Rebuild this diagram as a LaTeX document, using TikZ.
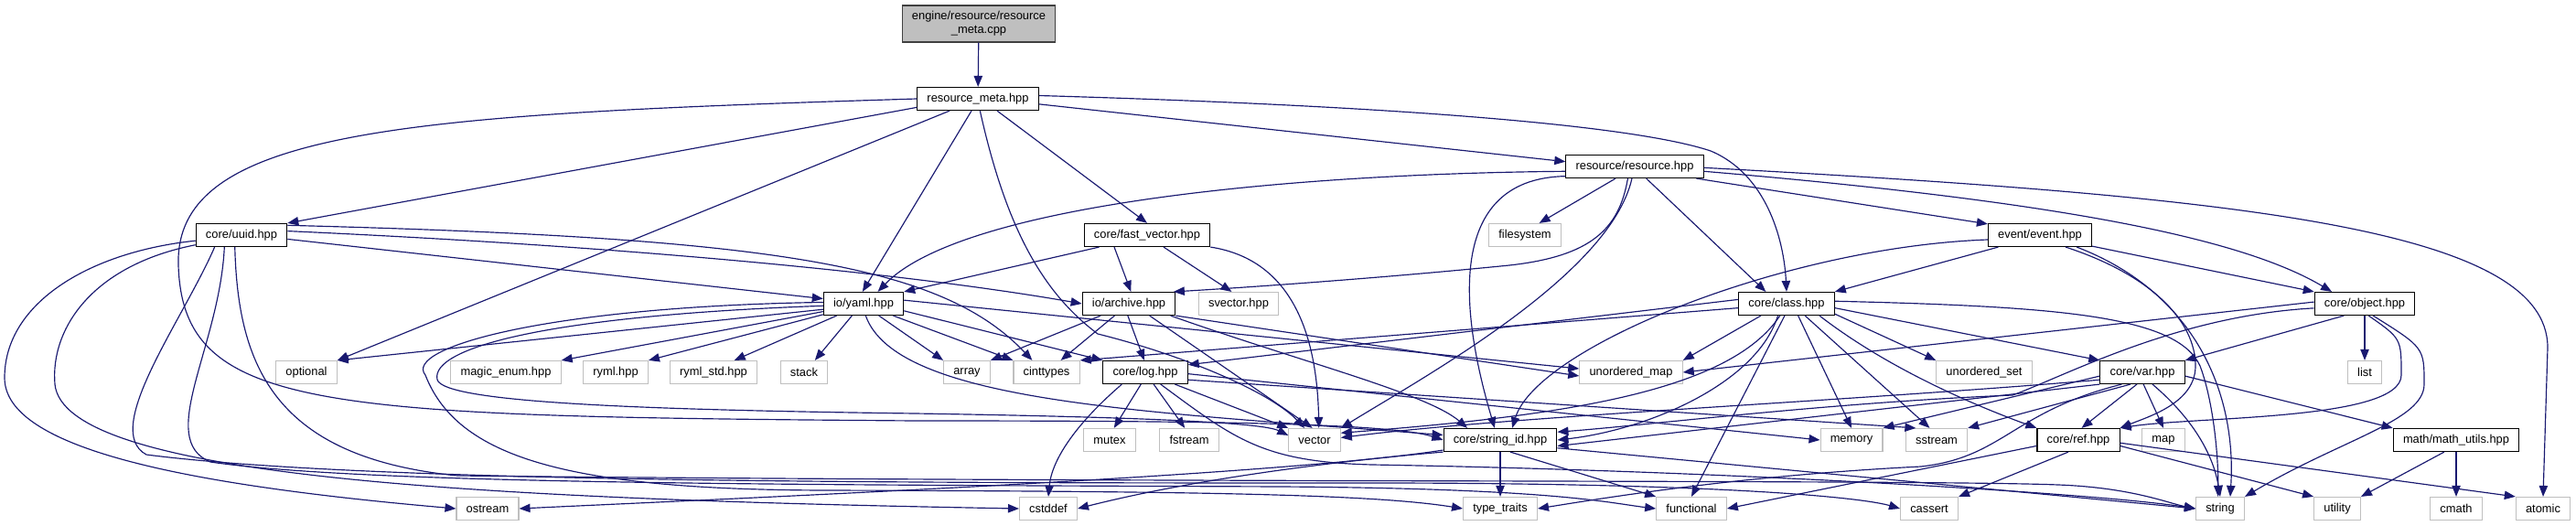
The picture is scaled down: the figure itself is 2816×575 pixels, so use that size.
\documentclass[tikz,border=0pt]{standalone}
\usepackage{fontspec}
\setmainfont{Liberation Sans}
\usepackage{tikz}
\usetikzlibrary{arrows.meta, positioning}

\definecolor{edgeblue}{HTML}{191970}
\definecolor{sysgray}{HTML}{BFBFBF}
\definecolor{rootline}{HTML}{404040}
\newcommand{\hfont}{\fontsize{11pt}{12.8pt}\selectfont}

\begin{document}
\begin{tikzpicture}[
    x=0.3mm, y=-0.3mm,
    hdr/.style={draw=black, fill=white, font=\hfont, minimum height=7.5mm, inner xsep=3.2mm, inner ysep=0pt, line width=0.35mm},
    syshdr/.style={hdr, draw=sysgray},
    srcfile/.style={hdr, fill=sysgray, draw=rootline, align=center, minimum height=12mm},
    dep/.style={draw=edgeblue, line width=0.35mm, -{Triangle[length=3.6mm,width=2.8mm]}}
]
\useasboundingbox (0,0) rectangle (2816,575);

% Source file and its header
\node[srcfile] (rootcpp) at (1070,26) {engine/resource/resource\\\_meta.cpp};
\node[hdr] (rmeta) at (1069,108) {resource\_meta.hpp};
\node[hdr] (resource) at (1787,182) {resource/resource.hpp};

% Row 4
\node[hdr] (uuid) at (264,257) {core/uuid.hpp};
\node[hdr] (fastvec) at (1254,257) {core/fast\_vector.hpp};
\node[syshdr] (fsys) at (1667,257) {filesystem};
\node[hdr] (event) at (2230,257) {event/event.hpp};

% Row 5
\node[hdr] (yaml) at (944,332) {io/yaml.hpp};
\node[hdr] (archive) at (1234,332) {io/archive.hpp};
\node[syshdr] (svector) at (1354,332) {svector.hpp};
\node[hdr] (klass) at (1953,332) {core/class.hpp};
\node[hdr] (object) at (2585,332) {core/object.hpp};

% Row 6
\node[syshdr] (optional) at (335,407) {optional};
\node[syshdr] (magicenum) at (553,407) {magic\_enum.hpp};
\node[syshdr] (ryml) at (673,407) {ryml.hpp};
\node[syshdr] (rymlstd) at (780,407) {ryml\_std.hpp};
\node[syshdr] (stack) at (879,407) {stack};
\node[syshdr] (array) at (1057,407) {array};
\node[syshdr] (cinttypes) at (1144,407) {cinttypes};
\node[hdr] (logh) at (1252,407) {core/log.hpp};
\node[syshdr] (umap) at (1783,407) {unordered\_map};
\node[syshdr] (uset) at (2169,407) {unordered\_set};
\node[hdr] (var) at (2342,407) {core/var.hpp};
\node[syshdr] (list) at (2585,407) {list};

% Row 7
\node[syshdr] (mutex) at (1213,481) {mutex};
\node[syshdr] (fstream) at (1300,481) {fstream};
\node[syshdr] (vector) at (1437,481) {vector};
\node[hdr] (stringid) at (1640,481) {core/string\_id.hpp};
\node[syshdr] (memory) at (2024,481) {memory};
\node[syshdr] (sstream) at (2117,481) {sstream};
\node[hdr] (ref) at (2272,481) {core/ref.hpp};
\node[syshdr] (map) at (2365,481) {map};
\node[hdr] (mathutils) at (2685,481) {math/math\_utils.hpp};

% Row 8
\node[syshdr] (ostream) at (533,556) {ostream};
\node[syshdr] (cstddef) at (1146,556) {cstddef};
\node[syshdr] (typetraits) at (1640,556) {type\_traits};
\node[syshdr] (functional) at (1849,556) {functional};
\node[syshdr] (cassert) at (2109,556) {cassert};
\node[syshdr] (string) at (2427,556) {string};
\node[syshdr] (utility) at (2555,556) {utility};
\node[syshdr] (cmath) at (2685,556) {cmath};
\node[syshdr] (atomic) at (2780,556) {atomic};

% Arrows
\draw[dep] (rootcpp) -- (rmeta);

% resource_meta.hpp
\draw[dep] (rmeta.188) -- (uuid.north east);
\draw[dep] (rmeta.west) .. controls (450,125) and (190,140) .. (195,290) .. controls (200,450) and (350,455) .. (1000,460) .. controls (1300,460) and (1520,462) .. (stringid.west);
\draw[dep] (rmeta.-157) -- (optional.north east);
\draw[dep] (rmeta.-118) -- (yaml.95);
\draw[dep] (rmeta.-80) .. controls (1100,250) and (1140,320) .. (1200,365) .. controls (1300,390) and (1390,430) .. (vector.130);
\draw[dep] (rmeta.-32) -- (fastvec.north);
\draw[dep] (rmeta.-5) -- (resource.176);
\draw[dep] (rmeta.3) .. controls (1500,115) and (1780,135) .. (1870,165) .. controls (1930,190) and (1950,260) .. (klass.north);

% core/uuid.hpp
\draw[dep] (uuid.187) .. controls (100,275) and (5,330) .. (5,413) .. controls (5,490) and (200,530) .. (ostream.west);
\draw[dep] (uuid.192) .. controls (100,290) and (55,360) .. (60,420) .. controls (70,520) and (500,545) .. (cstddef.west);
\draw[dep] (uuid.-156) .. controls (200,350) and (110,470) .. (160,497) .. controls (400,528) and (1000,528) .. (1500,528) .. controls (1900,528) and (2040,545) .. (cassert.west);
\draw[dep] (uuid.-145) .. controls (240,380) and (170,480) .. (230,505) .. controls (400,530) and (900,530) .. (1400,532) .. controls (1700,534) and (1760,550) .. (functional.west);
\draw[dep] (uuid.-119) .. controls (260,400) and (300,500) .. (500,520) .. controls (1200,528) and (2100,524) .. (2250,530) .. controls (2330,533) and (2370,550) .. (string.west);
\draw[dep] (uuid.-5) -- (yaml.173);
\draw[dep] (uuid.5) .. controls (700,270) and (1000,300) .. (archive.west);
\draw[dep] (uuid.12) .. controls (850,260) and (1030,290) .. (cinttypes.140);

% core/fast_vector.hpp
\draw[dep] (fastvec.-166) -- (yaml.north east);
\draw[dep] (fastvec.-160) -- (archive.80);
\draw[dep] (fastvec.-36) -- (svector.120);
\draw[dep] (fastvec.south east) .. controls (1420,285) and (1440,380) .. (vector.70);

% resource/resource.hpp
\draw[dep] (resource.-176) .. controls (1400,190) and (1050,225) .. (yaml.40);
\draw[dep] (resource.-172) .. controls (1590,195) and (1590,320) .. (stringid.115);
\draw[dep] (resource.-103) .. controls (1760,300) and (1560,410) .. (vector.north east);
\draw[dep] (resource.-120) .. controls (1770,250) and (1740,280) .. (1650,290) .. controls (1500,305) and (1350,315) .. (archive.15);
\draw[dep] (resource.-148) -- (fsys.40);
\draw[dep] (resource.-46) -- (klass.150);
\draw[dep] (resource.-11) -- (event.168);
\draw[dep] (resource.-4) .. controls (2250,220) and (2450,260) .. (object.160);
\draw[dep] (resource.-1) .. controls (2450,215) and (2785,250) .. (2785,380) -- (atomic.north);

% event/event.hpp
\draw[dep] (event.-164) -- (klass.north east);
\draw[dep] (event.-12) -- (object.north west);
\draw[dep] (event.185) .. controls (1950,270) and (1680,380) .. (stringid.45);
\draw[dep] (event.-25) .. controls (2350,300) and (2400,350) .. (2400,400) .. controls (2400,440) and (2350,455) .. (ref.north east);
\draw[dep] (event.-18) .. controls (2400,320) and (2445,430) .. (string.50);

% io/yaml.hpp
\draw[dep] (yaml.188) -- (optional.north east);
\draw[dep] (yaml.191) -- (magicenum.north east);
\draw[dep] (yaml.195) -- (ryml.north east);
\draw[dep] (yaml.-156) -- (rymlstd.30);
\draw[dep] (yaml.-134) -- (stack.48);
\draw[dep] (yaml.-38) -- (array.north west);
\draw[dep] (yaml.-22) -- (cinttypes.north west);
\draw[dep] (yaml.-10) -- (logh.north west);
\draw[dep] (yaml.5) -- (umap.176);
\draw[dep] (yaml.183) .. controls (600,345) and (470,380) .. (478,415) .. controls (485,440) and (700,448) .. (1000,452) .. controls (1250,456) and (1380,462) .. (vector.170);
\draw[dep] (yaml.178) .. controls (600,335) and (440,380) .. (465,410) .. controls (500,500) and (620,535) .. (900,536) .. controls (1300,537) and (1500,540) .. (typetraits.west);
\draw[dep] (yaml.-80) .. controls (980,440) and (1250,450) .. (stringid.175);

% io/archive.hpp
\draw[dep] (archive.-157) -- (array.north east);
\draw[dep] (archive.-140) -- (cinttypes.40);
\draw[dep] (archive.-95) -- (logh.95);
\draw[dep] (archive.-30) -- (vector.100);
\draw[dep] (archive.-16) .. controls (1420,395) and (1560,430) .. (stringid.160);
\draw[dep] (archive.south east) -- (umap.184);

% core/log.hpp
\draw[dep] (logh.-110) -- (mutex.70);
\draw[dep] (logh.-55) -- (fstream.110);
\draw[dep] (logh.-153) .. controls (1180,460) and (1150,500) .. (cstddef.north);
\draw[dep] (logh.-22) -- (vector.north west);
\draw[dep] (logh.-38) .. controls (1350,480) and (1380,505) .. (1500,508) .. controls (1900,515) and (2300,540) .. (string.west);
\draw[dep] (logh.-2) -- (memory.west);
\draw[dep] (logh.-10) -- (sstream.150);

% core/class.hpp
\draw[dep] (klass.175) -- (logh.10);
\draw[dep] (klass.185) -- (cinttypes.north east);
\draw[dep] (klass.-155) -- (umap.north east);
\draw[dep] (klass.-126) .. controls (1920,420) and (1800,470) .. (stringid.east);
\draw[dep] (klass.-119) .. controls (1890,430) and (1700,455) .. (vector.15);
\draw[dep] (klass.-99) -- (functional.north);
\draw[dep] (klass.-46) -- (memory.north);
\draw[dep] (klass.-33) -- (sstream.120);
\draw[dep] (klass.-20) .. controls (2060,400) and (2150,440) .. (ref.north west);
\draw[dep] (klass.-12) -- (uset.north west);
\draw[dep] (klass.-5) -- (var.north west);
\draw[dep] (klass.3) .. controls (2250,335) and (2380,345) .. (2405,400) .. controls (2420,440) and (2425,500) .. (string.100);

% core/object.hpp
\draw[dep] (object.178) -- (umap.east);
\draw[dep] (object.185) .. controls (2380,345) and (2260,410) .. (2200,432) .. controls (2000,440) and (1800,465) .. (stringid.8);
\draw[dep] (object.-150) -- (var.north east);
\draw[dep] (object.south) -- (list.north);
\draw[dep] (object.-72) .. controls (2625,370) .. (2625,410) .. controls (2625,460) and (2400,455) .. (ref.north east);
\draw[dep] (object.-55) .. controls (2650,380) .. (2650,420) .. controls (2650,460) and (2560,480) .. (string.north east);

% core/var.hpp
\draw[dep] (var.-170) .. controls (2000,440) and (1650,455) .. (vector.5);
\draw[dep] (var.south west) -- (stringid.-6);
\draw[dep] (var.-175) -- (memory.north east);
\draw[dep] (var.-135) -- (sstream.north east);
\draw[dep] (var.-115) -- (ref.75);
\draw[dep] (var.-85) -- (map.north);
\draw[dep] (var.-50) .. controls (2400,460) and (2420,500) .. (string.north);
\draw[dep] (var.-5) -- (mathutils.north west);
\draw[dep] (var.-150) .. controls (2200,450) and (2190,500) .. (2100,510) .. controls (1900,520) and (1750,545) .. (typetraits.east);

% core/string_id.hpp
\draw[dep] (stringid.-170) .. controls (1400,520) and (800,545) .. (ostream.east);
\draw[dep] (stringid.south west) .. controls (1450,505) and (1300,525) .. (cstddef.east);
\draw[dep] (stringid.south) -- (typetraits.north);
\draw[dep] (stringid.-50) -- (functional.north west);
\draw[dep] (stringid.-8) -- (string.west);

% core/ref.hpp
\draw[dep] (ref.-172) -- (functional.east);
\draw[dep] (ref.-130) -- (cassert.north east);
\draw[dep] (ref.-8) -- (utility.north west);
\draw[dep] (ref.-4) -- (atomic.north west);

% math/math_utils.hpp
\draw[dep] (mathutils.-135) -- (utility.north east);
\draw[dep] (mathutils.south) -- (cmath.north);

\end{tikzpicture}
\end{document}
